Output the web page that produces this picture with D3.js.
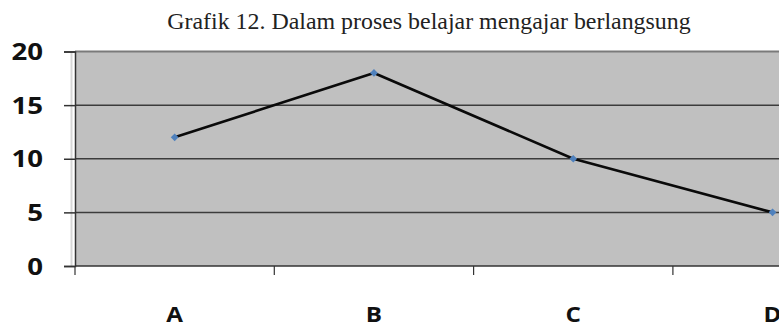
<!DOCTYPE html>
<html>
<head>
<meta charset="utf-8">
<script src="https://cdn.jsdelivr.net/npm/d3@7"></script>
<style>
  html, body { margin: 0; padding: 0; background: #fff; }
  svg { display: block; }
</style>
</head>
<body>
<svg id="chart" width="779" height="329"></svg>
<script>
// Chart data
const categories = ["A", "B", "C", "D"];
const values = [12, 18, 10, 5];
const yTicks = [0, 5, 10, 15, 20];
const title = "Grafik 12. Dalam proses belajar mengajar berlangsung";

const svg = d3.select("#chart");

// Plot frame (the category band runs past the right edge of the page)
const plotLeft = 75, plotTop = 51.5, plotBottom = 266, bandW = 199.3;

const x = d3.scaleBand()
  .domain(categories)
  .range([plotLeft, plotLeft + bandW * categories.length])
  .paddingInner(0).paddingOuter(0);

const y = d3.scaleLinear().domain([0, 20]).range([plotBottom, plotTop]);

// Title
svg.append("text")
  .attr("x", 429).attr("y", 29)
  .attr("text-anchor", "middle")
  .attr("font-family", "'Liberation Serif', 'Times New Roman', serif")
  .attr("font-size", 23.9)
  .attr("fill", "#222")
  .text(title);

// Plot background
svg.append("rect")
  .attr("x", plotLeft).attr("y", y(20))
  .attr("width", x.range()[1] - plotLeft)
  .attr("height", plotBottom - y(20))
  .attr("fill", "#c0c0c0");

// Faint shadow left of the value axis
svg.append("line")
  .attr("x1", plotLeft - 3.5).attr("x2", plotLeft - 3.5)
  .attr("y1", y(20)).attr("y2", plotBottom)
  .attr("stroke", "#d6d6d6").attr("stroke-width", 2);

// Horizontal gridlines
svg.append("g")
  .selectAll("line")
  .data(yTicks.filter(t => t > 0))
  .join("line")
  .attr("x1", plotLeft).attr("x2", x.range()[1])
  .attr("y1", d => y(d)).attr("y2", d => y(d))
  .attr("stroke", d => d === 20 ? "#7a7a7a" : "#3c3c3c")
  .attr("stroke-width", d => d === 20 ? 2 : 1.5);

// Y axis
const yAxis = svg.append("g")
  .attr("transform", `translate(${plotLeft},0)`)
  .call(d3.axisLeft(y).tickValues(yTicks).tickSize(11).tickFormat(""));
yAxis.select(".domain").attr("stroke", "#333").attr("stroke-width", 1.5);
yAxis.selectAll(".tick line").attr("stroke", "#333").attr("stroke-width", 1.5);

svg.append("g")
  .selectAll("text")
  .data(yTicks)
  .join("text")
  .attr("transform", d => `translate(43,${y(d) + 8.5}) scale(1.2,1)`)
  .attr("text-anchor", "end")
  .attr("font-family", "'Open Sans', sans-serif")
  .attr("font-weight", 700)
  .attr("font-size", 23)
  .attr("fill", "#111")
  .text(d => d);

// X axis: ticks at band boundaries
const xAxis = svg.append("g")
  .attr("transform", `translate(0,${plotBottom})`);
xAxis.append("line")
  .attr("x1", plotLeft).attr("x2", x.range()[1])
  .attr("stroke", "#333").attr("stroke-width", 1.5);
xAxis.selectAll("line.tk")
  .data(categories)
  .join("line")
  .attr("class", "tk")
  .attr("x1", d => x(d)).attr("x2", d => x(d))
  .attr("y1", 0).attr("y2", 9)
  .attr("stroke", "#333").attr("stroke-width", 1.2);

svg.append("g")
  .selectAll("text")
  .data(categories)
  .join("text")
  .attr("transform", d => `translate(${x(d) + x.bandwidth() / 2},322) scale(1.1,1)`)
  .attr("text-anchor", "middle")
  .attr("font-family", "'Open Sans', sans-serif")
  .attr("font-weight", 700)
  .attr("font-size", 22)
  .attr("fill", "#111")
  .text(d => d);

// Data line
const pts = categories.map((c, i) => [x(c) + x.bandwidth() / 2, y(values[i])]);
svg.append("path")
  .attr("d", d3.line()(pts))
  .attr("fill", "none")
  .attr("stroke", "#0a0a0a")
  .attr("stroke-width", 2.6)
  .attr("stroke-linejoin", "round");

// Markers: small blue diamonds
svg.append("g")
  .selectAll("path")
  .data(pts)
  .join("path")
  .attr("transform", d => `translate(${d[0]},${d[1]}) rotate(45)`)
  .attr("d", d3.symbol().type(d3.symbolSquare).size(30))
  .attr("fill", "#4f81bd");
</script>
</body>
</html>
